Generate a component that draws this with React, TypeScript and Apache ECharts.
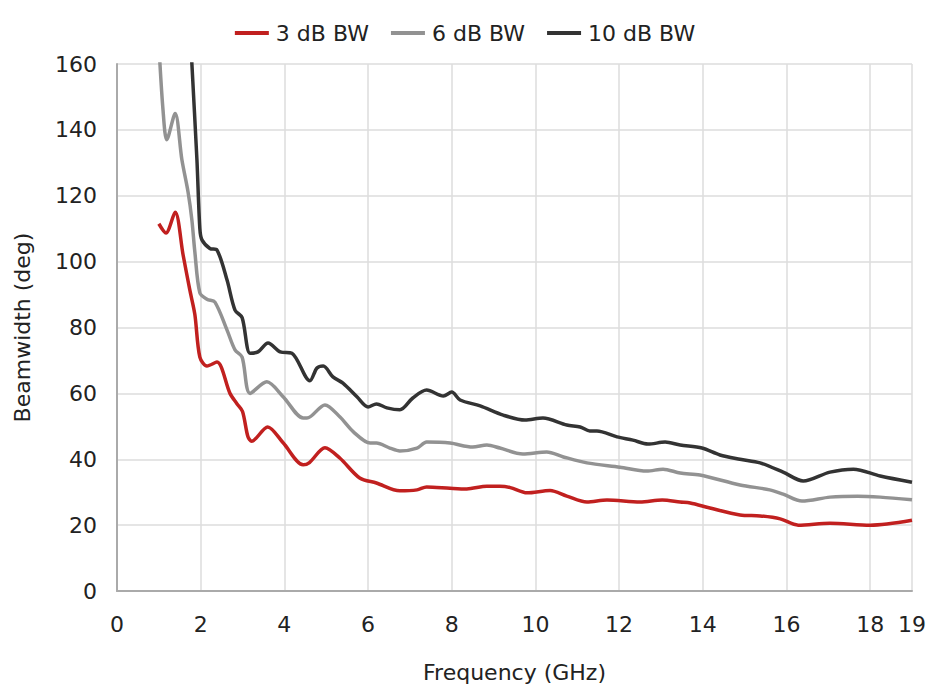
import React, { useEffect, useRef } from "react";
import * as echarts from "echarts";

const seriesNames = ["3 dB BW", "6 dB BW", "10 dB BW"];

const bw3Freq = [1.0, 1.17, 1.39, 1.58, 1.74, 1.86, 1.98, 2.15, 2.39, 2.7, 2.87, 3.0, 3.13, 3.22, 3.6, 3.97, 4.45, 4.6, 4.97, 5.33, 5.8, 6.2, 6.76, 7.17, 7.4, 7.96, 8.36, 8.84, 9.15, 9.4, 9.8, 10.35, 10.75, 11.23, 11.71, 12.5, 13.03, 13.46, 13.7, 14.17, 14.89, 15.37, 15.85, 16.28, 17.04, 18.0, 19.0];
const bw3Vals = [111.5, 108.7, 115, 102, 91.4, 84, 71, 68.3, 69.5, 60, 56.8, 54.5, 46.8, 45.5, 49.8, 45, 38.3, 39, 43.5, 40.3, 34.3, 32.8, 30.4, 30.7, 31.6, 31.2, 31, 31.8, 31.8, 31.4, 29.8, 30.5, 28.8, 27, 27.6, 27, 27.6, 27, 26.7, 25.2, 23.1, 22.8, 21.9, 20, 20.6, 20, 21.5];

const bw6Freq = [1.0, 1.1, 1.19, 1.39, 1.55, 1.7, 1.79, 1.86, 1.98, 2.15, 2.34, 2.63, 2.82, 2.99, 3.18, 3.58, 3.97, 4.45, 4.54, 4.97, 5.33, 5.65, 6.05, 6.2, 6.52, 6.76, 7.17, 7.4, 7.96, 8.5, 8.84, 9.15, 9.7, 10.27, 10.67, 11.23, 12.02, 12.66, 13.05, 13.46, 13.93, 14.89, 15.6, 15.92, 16.37, 17.04, 17.7, 18.24, 19.0];
const bw6Vals = [166, 146, 137, 145, 131, 121, 112.6, 103, 90.5, 88.6, 87.7, 79.2, 73.2, 71, 60, 63.5, 59, 52.5, 52.5, 56.5, 52.8, 48.3, 44.9, 44.9, 43.4, 42.5, 43.4, 45.2, 44.9, 43.7, 44.3, 43.4, 41.6, 42.2, 40.7, 38.9, 37.6, 36.4, 37, 35.8, 35.2, 32.2, 30.7, 29.4, 27.3, 28.5, 28.8, 28.5, 27.7];

const bw10Freq = [1.72, 1.79, 1.91, 1.98, 2.03, 2.22, 2.39, 2.63, 2.82, 2.99, 3.18, 3.37, 3.61, 3.9, 4.18, 4.61, 4.78, 4.93, 5.16, 5.4, 5.74, 6.0, 6.2, 6.45, 6.76, 7.07, 7.4, 7.8, 8.0, 8.2, 8.68, 9.23, 9.75, 10.18, 10.75, 11.07, 11.3, 11.47, 11.95, 12.33, 12.69, 13.1, 13.46, 13.98, 14.41, 14.89, 15.37, 15.92, 16.4, 17.04, 17.6, 18.24, 19.0];
const bw10Vals = [178, 160, 131, 110, 106.6, 104, 103.5, 94.4, 85.3, 83, 72.2, 72.6, 75.3, 72.6, 72.2, 63.8, 67.7, 68.3, 65, 63.1, 58.9, 55.9, 56.8, 55.6, 55, 58.6, 61, 59.2, 60.4, 58, 56.2, 53.4, 51.9, 52.5, 50.4, 49.8, 48.6, 48.6, 46.8, 45.8, 44.6, 45.2, 44.3, 43.4, 41.3, 40, 38.9, 36.1, 33.4, 36.1, 37, 34.9, 33];

const colors = ["#c1201f", "#929292", "#333333"];

const FONT = "DejaVu Sans";
const FS = 22;

function pairs(xs: number[], ys: number[]) {
  return xs.map((x, i) => [x, ys[i]]);
}

export default function App() {
  const ref = useRef<HTMLDivElement>(null);
  useEffect(() => {
    if (!ref.current) return;
    const chart = echarts.init(ref.current, null, { renderer: "svg" });
    const data = [pairs(bw3Freq, bw3Vals), pairs(bw6Freq, bw6Vals), pairs(bw10Freq, bw10Vals)];
    chart.setOption({
      animation: false,
      color: colors,
      textStyle: { fontFamily: FONT },
      legend: {
        top: 17,
        left: "center",
        itemWidth: 34,
        itemHeight: 4,
        itemGap: 22,
        icon: "rect",
        textStyle: { fontSize: FS, color: "#222", fontFamily: FONT, padding: [0, 0, 0, 2] },
        data: seriesNames,
      },
      grid: { left: 117, right: 18, top: 64, bottom: 105 },
      xAxis: {
        type: "value",
        min: 0,
        max: 19,
        interval: 2,
        name: "Frequency (GHz)",
        nameLocation: "middle",
        nameGap: 70,
        nameTextStyle: { fontSize: FS, color: "#222", fontFamily: FONT },
        axisLine: { show: true, lineStyle: { color: "#aaaaaa", width: 2 } },
        axisTick: { show: false },
        axisLabel: { fontSize: FS, color: "#222", margin: 22, fontFamily: FONT },
        splitLine: { show: true, lineStyle: { color: "#dddddd", width: 1.5 } },
      },
      yAxis: {
        type: "value",
        min: 0,
        max: 160,
        interval: 20,
        name: "Beamwidth (deg)",
        nameLocation: "middle",
        nameGap: 84,
        nameTextStyle: { fontSize: FS, color: "#222", fontFamily: FONT },
        axisLine: { show: true, lineStyle: { color: "#aaaaaa", width: 2 } },
        axisTick: { show: false },
        axisLabel: { fontSize: FS, color: "#222", margin: 20, fontFamily: FONT },
        splitLine: { show: true, lineStyle: { color: "#dddddd", width: 1.5 } },
      },
      series: seriesNames.map((name, i) => ({
        name,
        type: "line",
        data: data[i],
        showSymbol: false,
        smooth: 0.3,
        clip: true,
        lineStyle: { width: 3.5, color: colors[i] },
        itemStyle: { color: colors[i] },
      })),
    });
    return () => chart.dispose();
  }, []);
  return <div ref={ref} style={{ width: 930, height: 696, position: "absolute", left: 0, top: 0 }} />;
}
